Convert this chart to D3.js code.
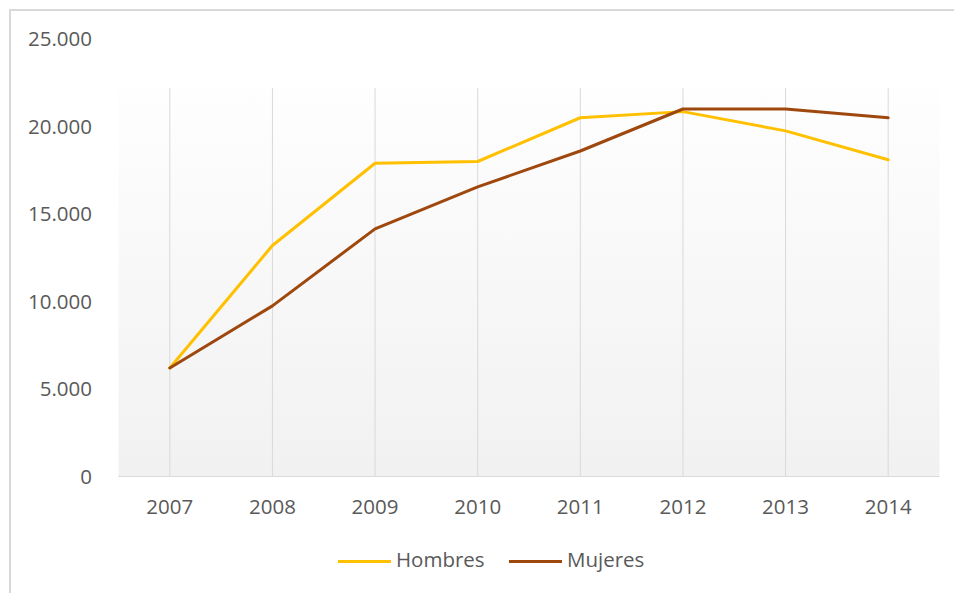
<!DOCTYPE html>
<html>
<head>
<meta charset="utf-8">
<script src="https://cdn.jsdelivr.net/npm/d3@7"></script>
<style>
  body { margin: 0; background: #fff; }
  text { font-family: "Open Sans", "Noto Sans", sans-serif; fill: #595959; font-size: 20.5px; }
</style>
</head>
<body>
<script>
//chart data
var years = ["2007", "2008", "2009", "2010", "2011", "2012", "2013", "2014"];
var hombres = [6200, 13200, 17900, 18000, 20500, 20850, 19750, 18100];
var mujeres = [6200, 9750, 14150, 16550, 18600, 21000, 21000, 20500];
var yTicks = [0, 5000, 10000, 15000, 20000, 25000];
var seriesNames = ["Hombres", "Mujeres"];
var seriesColors = ["#FFC000", "#9E480E"];

var width = 954, height = 593;
var svg = d3.select("body").append("svg")
    .attr("width", width)
    .attr("height", height);

//chart frame border (top and left visible)
svg.append("rect")
    .attr("x", 10).attr("y", 10)
    .attr("width", width).attr("height", height)
    .attr("fill", "#fff")
    .attr("stroke", "#d9d9d9")
    .attr("stroke-width", 2);

var plot = {left: 118.5, right: 939.5, top: 39, bottom: 476.5};

var x = d3.scaleBand()
    .domain(years)
    .range([plot.left, plot.right]);

var y = d3.scaleLinear()
    .domain([0, 25000])
    .range([plot.bottom, plot.top]);

//gradient plot background
var defs = svg.append("defs");
var grad = defs.append("linearGradient")
    .attr("id", "bg").attr("x1", 0).attr("y1", 0).attr("x2", 0).attr("y2", 1);
grad.append("stop").attr("offset", "0%").attr("stop-color", "#fefefe");
grad.append("stop").attr("offset", "100%").attr("stop-color", "#f1f1f1");

svg.append("rect")
    .attr("x", plot.left)
    .attr("y", 88)
    .attr("width", plot.right - plot.left)
    .attr("height", plot.bottom - 88)
    .attr("fill", "url(#bg)");

//vertical grid lines at each category
svg.selectAll(".vgrid")
    .data(years)
    .enter()
    .append("line")
    .attr("class", "vgrid")
    .attr("x1", function(d){ return x(d) + x.bandwidth() / 2; })
    .attr("x2", function(d){ return x(d) + x.bandwidth() / 2; })
    .attr("y1", 88)
    .attr("y2", plot.bottom)
    .attr("stroke", "#d9d9d9")
    .attr("stroke-width", 1);

//x axis line
svg.append("line")
    .attr("x1", plot.left).attr("x2", plot.right)
    .attr("y1", plot.bottom).attr("y2", plot.bottom)
    .attr("stroke", "#d9d9d9")
    .attr("stroke-width", 1);

//y axis labels
var fmt = d3.formatLocale({decimal: ",", thousands: ".", grouping: [3], currency: ["", ""]}).format(",");
svg.selectAll(".ylab")
    .data(yTicks)
    .enter()
    .append("text")
    .attr("class", "ylab")
    .attr("x", 92)
    .attr("y", function(d){ return y(d); })
    .attr("dy", "0.35em")
    .attr("text-anchor", "end")
    .text(function(d){ return fmt(d); });

//x axis labels
svg.selectAll(".xlab")
    .data(years)
    .enter()
    .append("text")
    .attr("class", "xlab")
    .attr("x", function(d){ return x(d) + x.bandwidth() / 2; })
    .attr("y", 507)
    .attr("dy", "0.35em")
    .attr("text-anchor", "middle")
    .text(function(d){ return d; });

//lines
var line = d3.line()
    .x(function(d, i){ return x(years[i]) + x.bandwidth() / 2; })
    .y(function(d){ return y(d); });

[hombres, mujeres].forEach(function(vals, i){
    svg.append("path")
        .datum(vals)
        .attr("d", line)
        .attr("fill", "none")
        .attr("stroke", seriesColors[i])
        .attr("stroke-width", 3)
        .attr("stroke-linejoin", "round")
        .attr("stroke-linecap", "round");
});

//legend
var legendX = [338, 509];
seriesNames.forEach(function(name, i){
    svg.append("line")
        .attr("x1", legendX[i]).attr("x2", legendX[i] + 53)
        .attr("y1", 561.5).attr("y2", 561.5)
        .attr("stroke", seriesColors[i])
        .attr("stroke-width", 3);
    svg.append("text")
        .attr("x", legendX[i] + 58)
        .attr("y", 560)
        .attr("dy", "0.35em")
        .text(name);
});
</script>
</body>
</html>
